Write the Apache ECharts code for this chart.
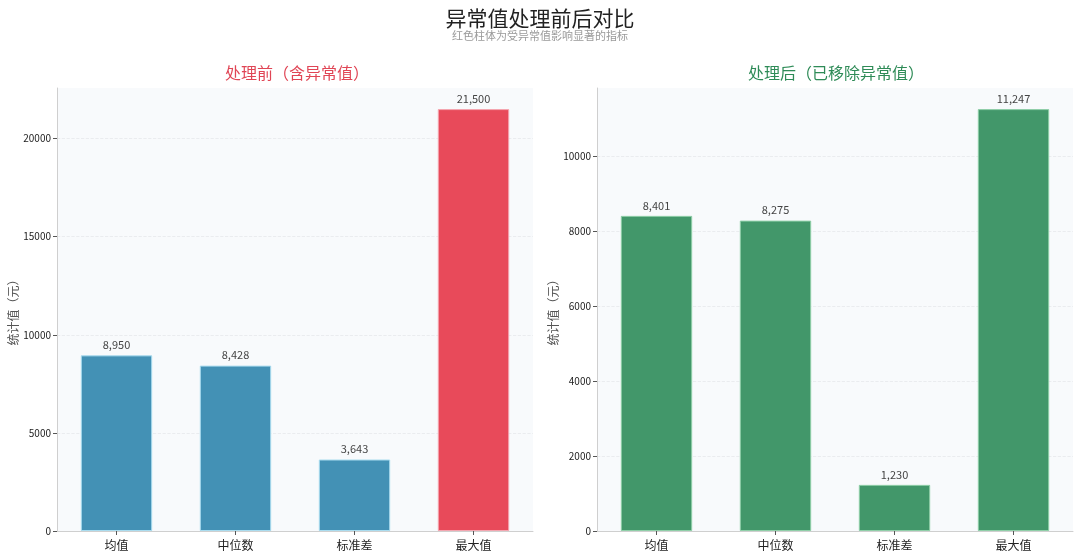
<!DOCTYPE html>
<html>
<head>
<meta charset="utf-8">
<script src="https://cdn.jsdelivr.net/npm/echarts@6/dist/echarts.min.js"></script>
<style>
  html, body { margin: 0; padding: 0; background: #fff; }
  #chart { width: 1080px; height: 558px; }
</style>
</head>
<body>
<div id="chart"></div>
<script>
// 统计量类别
const categories = ['均值', '中位数', '标准差', '最大值'];
// 处理前（含异常值）
const beforeValues = [8950, 8428, 3643, 21500];
// 处理后（已移除异常值）
const afterValues = [8401, 8275, 1230, 11247];
// 刻度
const beforeTicks = [0, 5000, 10000, 15000, 20000];
const afterTicks = [0, 2000, 4000, 6000, 8000, 10000];

const FONT = '"Noto Sans CJK SC", "DejaVu Sans", sans-serif';
const BLUE = '#4391b5';
const RED = '#e84a5a';
const GREEN = '#42976a';

function fmt(v) {
    return v.toLocaleString('en-US');
}

function yAxis(gridIndex, max, ticks) {
    return {
        type: 'value',
        gridIndex: gridIndex,
        min: 0,
        max: max,
        name: '统计值（元）',
        nameLocation: 'middle',
        nameGap: gridIndex === 0 ? 36 : 38,
        nameTextStyle: { color: '#555', fontSize: 12, fontFamily: FONT },
        axisLine: { show: true, lineStyle: { color: '#cfcfcf' } },
        axisTick: { show: true, length: 4, lineStyle: { color: '#555' }, customValues: ticks },
        axisLabel: { color: '#222', fontSize: 10, fontFamily: FONT, margin: 6, customValues: ticks, formatter: v => String(v) },
        splitLine: { show: true, lineStyle: { color: '#e6e8eb', type: 'dashed', width: 0.8 } }
    };
}

function xAxis(gridIndex) {
    return {
        type: 'category',
        gridIndex: gridIndex,
        data: categories,
        axisLine: { lineStyle: { color: '#cfcfcf' } },
        axisTick: { show: true, alignWithLabel: true, length: 4, lineStyle: { color: '#555' } },
        axisLabel: { color: '#222', fontSize: 12, fontFamily: FONT, margin: 8 }
    };
}

const labelStyle = {
    show: true,
    position: 'top',
    distance: 5,
    color: '#444',
    fontSize: 11,
    fontFamily: FONT,
    formatter: p => fmt(p.value)
};

let myChart = echarts.init(document.getElementById('chart'));

const option = {
    backgroundColor: '#fff',
    animation: false,
    title: [
        {
            text: '异常值处理前后对比',
            subtext: '红色柱体为受异常值影响显著的指标',
            left: 'center',
            top: 3,
            itemGap: 1,
            textStyle: { fontSize: 21, fontWeight: 'normal', color: '#222', fontFamily: FONT },
            subtextStyle: { fontSize: 11, color: '#999', fontFamily: FONT }
        },
        {
            text: '处理前（含异常值）',
            left: 292, textAlign: 'center',
            top: 60,
            textStyle: { fontSize: 16, fontWeight: 'normal', color: '#e04555', fontFamily: FONT }
        },
        {
            text: '处理后（已移除异常值）',
            left: 831, textAlign: 'center',
            top: 60,
            textStyle: { fontSize: 16, fontWeight: 'normal', color: '#2e8b57', fontFamily: FONT }
        }
    ],
    grid: [
        { left: 57, right: 547, top: 88, bottom: 27, show: true, backgroundColor: '#f8fafc', borderWidth: 0 },
        { left: 597, right: 7, top: 88, bottom: 27, show: true, backgroundColor: '#f8fafc', borderWidth: 0 }
    ],
    xAxis: [xAxis(0), xAxis(1)],
    yAxis: [
        yAxis(0, 22575, beforeTicks),
        yAxis(1, 11810, afterTicks)
    ],
    series: [
        {
            type: 'bar',
            xAxisIndex: 0,
            yAxisIndex: 0,
            barWidth: '60%',
            data: beforeValues.map((v, i) => ({
                value: v,
                itemStyle: { color: i === 3 ? RED : BLUE, borderColor: i === 3 ? '#f4a6b0' : '#a9dcef', borderWidth: 1 }
            })),
            label: labelStyle
        },
        {
            type: 'bar',
            xAxisIndex: 1,
            yAxisIndex: 1,
            barWidth: '60%',
            data: afterValues,
            itemStyle: { color: GREEN, borderColor: '#8fcfa8', borderWidth: 1 },
            label: labelStyle
        }
    ]
};

myChart.setOption(option);
</script>
</body>
</html>
